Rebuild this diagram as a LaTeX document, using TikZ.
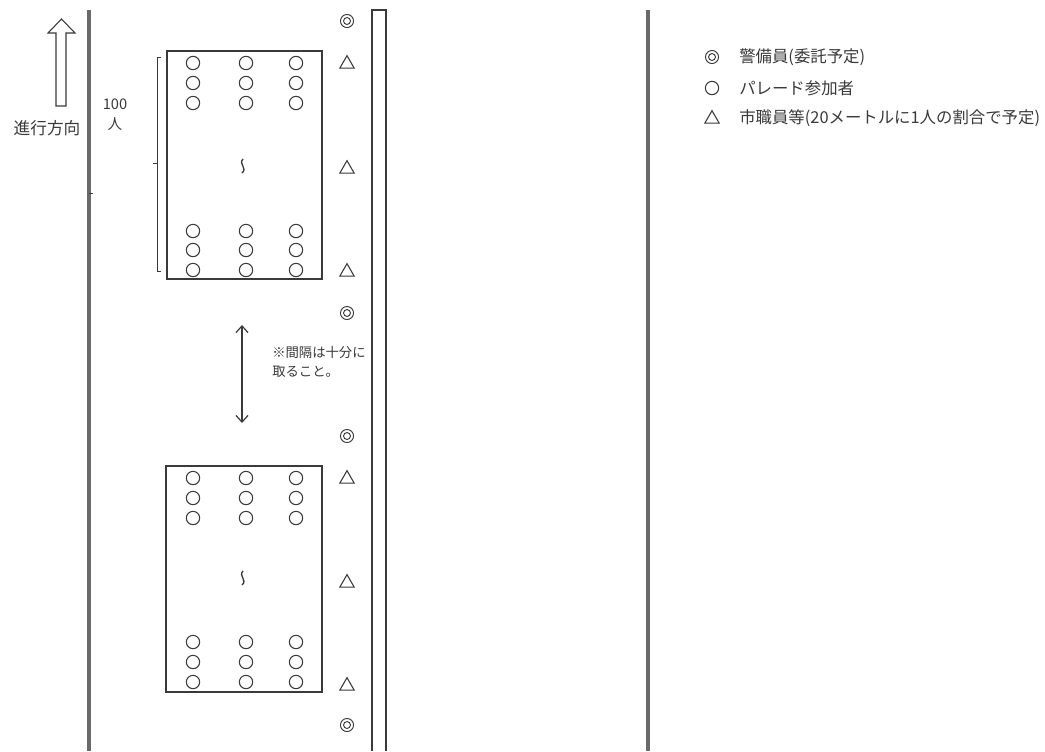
\documentclass[tikz,border=0pt]{standalone}
\usepackage{fontspec}
\setmainfont{Noto Sans CJK JP}
\usetikzlibrary{arrows.meta,shapes.geometric}
\definecolor{ink}{HTML}{3A3A3A}
\definecolor{road}{HTML}{6A6A6A}
\tikzset{
  person/.style={circle,draw=ink,line width=0.8pt,minimum size=10pt,inner sep=0pt},
  guard/.style={circle,draw=ink,line width=0.7pt,minimum size=9.8pt,inner sep=0pt,
    append after command={\pgfextra{\draw[ink,line width=0.7pt] (\tikzlastnode.center) circle[radius=2.6pt];}}},
  staff/.style={regular polygon,regular polygon sides=3,draw=ink,line width=0.8pt,minimum size=12.5pt,inner sep=0pt},
  label/.style={font=\fontsize{11}{13}\selectfont,text=ink,inner sep=0pt},
  legend/.style={font=\fontsize{12.3}{14}\selectfont,text=ink,inner sep=0pt,anchor=west},
  block/.style={draw=ink,line width=0.8pt},
  roadline/.style={draw=road,line width=2.4pt},
}
\begin{document}
\begin{tikzpicture}[x=0.75pt,y=-0.75pt]
\useasboundingbox (0,0) rectangle (1045,751);
\fill[white] (0,0) rectangle (1045,751);

% road edges
\draw[roadline] (89,10) -- (89,751);
\draw[ink,line width=0.6pt] (89,193) -- (93,193);
\draw[roadline] (648,10) -- (648,751);
\draw[ink,line width=0.8pt] (372,751) -- (372,10) -- (386,10) -- (386,751);

% direction arrow
\draw[ink,line width=0.8pt] (56,106) -- (56,33) -- (48,33) -- (61.5,19) -- (75,33) -- (66,33) -- (66,106) -- cycle;
\node[label,font=\fontsize{12.5}{14}\selectfont] (dir) at (47,128) {進行方向};
\node[label] (hundred) at (115,104) {100};
\node[label] (nin) at (115,124) {人};

% bracket
\draw[ink,line width=0.7pt] (161,57) -- (157,57) -- (157,271) -- (161,271);
\draw[ink,line width=0.7pt] (157,163) -- (153,163);

% blocks
\draw[block] (167,51) rectangle (322,279);
\draw[block] (166,466) rectangle (322,692);

\foreach \c/\x in {a/193,b/246,c/296}{
  \foreach \r/\y in {1/63,2/83,3/103,4/231,5/250,6/270}{
    \node[person] (p\c\r) at (\x,\y) {};
  }
  \foreach \r/\y in {1/478,2/498,3/518,4/642,5/662,6/682}{
    \node[person] (q\c\r) at (\x,\y) {};
  }
}
% squiggles
\draw[ink,line width=1pt] (243,159) .. controls (238,164) and (248,168) .. (242,173);
\draw[ink,line width=1pt] (243,571) .. controls (238,576) and (248,580) .. (242,585);

% staff triangles
\foreach \n/\y in {1/64,2/169,3/272,4/479,5/583,6/686}{
  \node[staff] (s\n) at (347,\y) {};
}
% guards
\foreach \n/\y in {1/21,2/313,3/436,4/725}{
  \node[guard] (g\n) at (347,\y) {};
}

% gap arrow
\coordinate (gt) at (242,325);
\coordinate (gb) at (242,423);
\draw[ink,line width=0.9pt,{Straight Barb[length=5pt,width=9pt]}-{Straight Barb[length=5pt,width=9pt]}] (gt) -- (gb);
\node[label,anchor=west,align=left,font=\fontsize{10}{14.5}\selectfont] (note) at (272,362) {※間隔は十分に\\取ること。};

% legend
\node[guard] (lg) at (712,57) {};
\node[legend] (lgt) at (739,57) {警備員(委託予定)};
\node[person] (lp) at (712,88) {};
\node[legend] (lpt) at (739,88) {パレード参加者};
\node[staff] (ls) at (712,119) {};
\node[legend] (lst) at (739,118) {市職員等(20メートルに1人の割合で予定)};
\end{tikzpicture}
\end{document}
